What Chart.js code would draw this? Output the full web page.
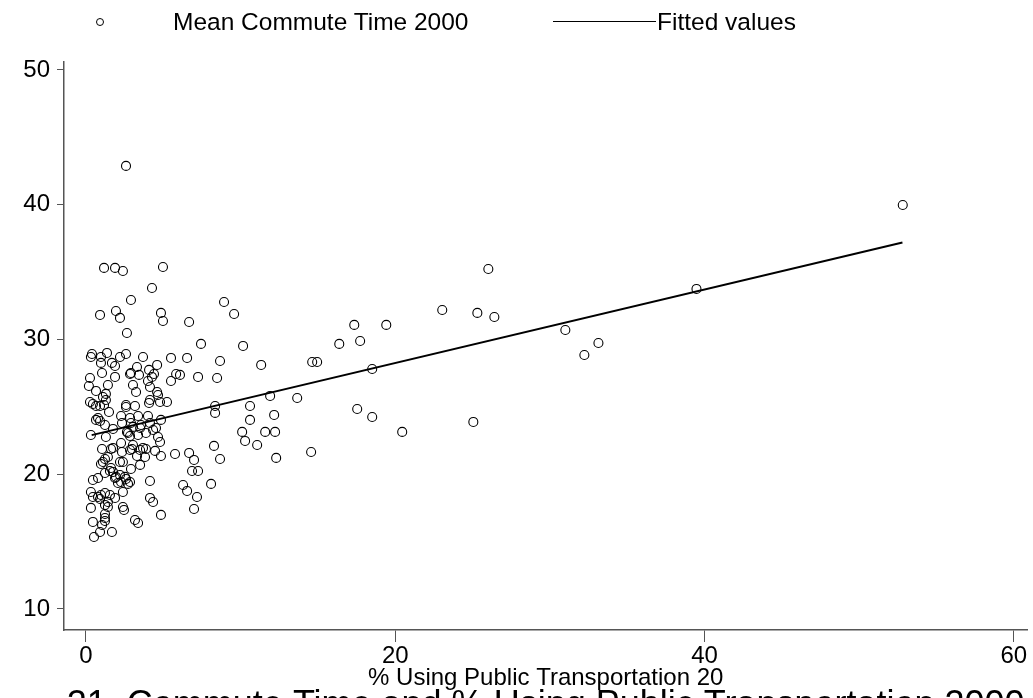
<!DOCTYPE html>
<html>
<head>
<meta charset="utf-8">
<script src="https://cdn.jsdelivr.net/npm/chart.js@4.4.1/dist/chart.umd.min.js"></script>
<style>
  html, body { margin: 0; padding: 0; background: #fff; overflow: hidden; }
  #wrap { position: relative; width: 1033px; height: 730px; }
  #legend { position: absolute; left: 0; top: 0; width: 1033px; height: 44px;
            font: 24.5px "Liberation Sans", Arial, sans-serif; color: #000; }
  #legend .dot { position: absolute; left: 96px; top: 18px; width: 6px; height: 6px;
                 border: 1px solid #000; border-radius: 50%; }
  #legend .line { position: absolute; left: 553px; top: 21px; width: 103px; height: 1px; background: #000; }
  #legend .txt { position: absolute; top: 9px; line-height: 26px; white-space: nowrap; }
</style>
</head>
<body>
<div id="wrap">
  <canvas id="commute-chart" width="1033" height="730"></canvas>
  <div id="legend">
    <span class="dot"></span><span class="txt" style="left:173px">Mean Commute Time 2000</span>
    <span class="line"></span><span class="txt" style="left:657px">Fitted values</span>
  </div>
</div>
<script>
// % using public transportation (x) and mean commute time in minutes (y)
const commuteX = [
  2.59, 52.82, 39.48, 31.00, 33.14, 32.23, 26.02, 23.04, 25.31, 26.41,
  25.05, 20.45, 19.42, 17.35, 17.73, 16.38, 18.51, 17.54, 18.51, 14.56,
  14.63, 14.95, 13.66, 11.91, 12.17, 10.61, 10.61, 12.23, 11.59, 10.10,
  10.29, 11.07, 12.30, 8.28, 8.67, 6.67, 6.99, 6.86, 7.25, 8.09,
  6.28, 6.54, 7.18, 6.99, 6.54, 8.67, 11.33, 7.25, 8.48, 8.35,
  8.35, 6.08, 5.50, 5.83, 5.50, 8.93, 9.58, 6.67, 7.44, 10.16,
  1.17, 1.88, 2.39, 4.98, 4.27, 2.91, 0.91, 1.94, 2.20, 4.85, 4.98, 2.65,
  0.39, 0.32, 0.97, 1.36, 0.97, 2.20, 2.59, 3.69, 1.68, 1.88,
  3.30, 4.60, 1.04, 1.88, 2.85, 2.91, 3.43, 4.08, 4.01, 4.40,
  4.27, 0.26, 0.19, 0.65, 1.42, 1.29, 1.10, 3.04, 3.24, 4.14,
  4.60, 4.66, 4.14, 4.08, 4.79, 5.24, 0.26, 0.45, 0.65, 0.91,
  1.17, 1.29, 2.59, 2.59, 3.17, 1.49, 2.27, 2.85, 3.37, 4.01,
  0.65, 0.78, 0.91, 1.23, 1.75, 2.33, 2.91, 3.04, 3.56, 3.50,
  4.14, 4.53, 4.85, 0.32, 1.29, 2.72, 2.85, 2.65, 3.37, 3.88,
  4.34, 4.66, 2.27, 3.04, 4.79,
  1.04, 1.75, 1.62, 2.33, 2.85, 2.98, 3.50, 3.69, 3.88, 4.47,
  4.85, 5.76, 3.30, 3.82, 1.42, 1.23, 1.10, 0.97, 2.20, 2.39,
  2.91, 3.50, 1.62, 1.55, 1.75, 1.23, 1.94, 2.20, 1.88, 2.52,
  2.59, 2.85, 2.72, 0.45, 0.78, 4.14, 2.07, 2.27, 2.39, 0.32,
  0.45, 0.78, 0.97, 1.23, 1.55, 0.91, 1.88, 1.42, 1.23, 4.14,
  4.34, 0.32, 1.42, 2.39, 2.46, 1.23, 1.23, 1.23, 4.85, 3.17,
  3.37, 0.45, 1.04, 0.91, 0.52, 1.68
];
const commuteY = [
  42.88, 39.98, 33.75, 30.70, 29.74, 28.85, 35.23, 32.19, 31.97, 31.67,
  23.88, 23.14, 31.08, 31.08, 29.89, 29.67, 27.81, 24.84, 24.25, 21.65,
  28.33, 28.33, 25.66, 25.81, 24.40, 25.06, 24.03, 23.14, 23.14, 23.14,
  22.47, 22.17, 21.21, 22.10, 21.13, 21.58, 21.06, 20.24, 20.24, 19.28,
  19.20, 18.76, 18.31, 17.42, 28.63, 28.40, 28.11, 27.22, 27.14, 25.06,
  24.55, 27.37, 28.63, 27.44, 26.92, 32.78, 31.89, 31.30, 29.67, 29.52,
  35.31, 35.31, 35.08, 35.38, 33.82, 32.93, 31.82, 32.11, 31.60, 31.97, 31.37, 30.48,
  28.92, 28.70, 28.70, 29.00, 28.26, 28.70, 28.92, 28.70, 28.26, 28.03,
  27.96, 28.11, 27.51, 27.22, 27.44, 27.51, 27.37, 27.74, 26.92, 27.44,
  27.22, 27.14, 26.55, 26.18, 26.62, 25.96, 25.73, 26.62, 26.10, 26.47,
  26.10, 25.88, 25.51, 25.29, 25.36, 25.36, 25.36, 25.21, 25.06, 25.06,
  25.14, 25.51, 25.14, 24.99, 25.06, 24.62, 24.32, 24.17, 24.32, 24.32,
  24.03, 24.17, 23.95, 23.65, 23.36, 23.80, 23.80, 23.51, 23.65, 23.43,
  23.80, 23.43, 24.03, 22.91, 22.76, 23.06, 22.84, 23.14, 22.91, 23.06,
  23.28, 22.76, 22.32, 22.17, 22.39,
  21.87, 21.95, 21.87, 21.65, 21.80, 21.87, 21.80, 21.95, 21.87, 21.73,
  21.35, 21.50, 21.35, 21.28, 21.28, 21.13, 20.91, 20.76, 20.91, 20.91,
  20.39, 20.69, 20.46, 20.24, 20.17, 20.09, 19.80, 19.94, 19.72, 19.80,
  19.65, 19.42, 19.28, 19.57, 19.72, 19.50, 19.35, 19.42, 18.68, 18.68,
  18.31, 18.31, 18.46, 18.61, 18.46, 18.16, 18.24, 17.94, 17.72, 18.24,
  17.94, 17.50, 17.57, 17.57, 17.35, 17.05, 16.75, 16.53, 16.98, 16.60,
  16.38, 16.46, 16.23, 15.71, 15.34, 15.71
];
// fitted regression line, ends
const fitX = [0.37, 52.8];
const fitY = [22.9, 37.2];

const xTicks = [0, 20, 40, 60];
const yTicks = [10, 20, 30, 40, 50];

const font = (size, weight = 'normal') => ({ family: '"Liberation Sans", Arial, sans-serif', size, weight });
const axisGrey = '#555';

new Chart(document.getElementById('commute-chart'), {
  type: 'scatter',
  data: {
    datasets: [
      {
        label: 'Mean Commute Time 2000',
        data: commuteX.map((x, i) => ({ x, y: commuteY[i] })),
        pointStyle: 'circle', pointRadius: 4.5, pointBorderWidth: 1.1,
        borderColor: '#000', backgroundColor: 'rgba(0,0,0,0)'
      },
      {
        type: 'line',
        label: 'Fitted values',
        data: fitX.map((x, i) => ({ x, y: fitY[i] })),
        borderColor: '#000', borderWidth: 2, pointRadius: 0, fill: false
      }
    ]
  },
  options: {
    responsive: false,
    animation: false,
    events: [],
    layout: { padding: { top: 62, left: 0, right: 0, bottom: 2.5 } },
    plugins: {
      legend: { display: false },
      tooltip: { enabled: false },
      title: {
        display: true, position: 'bottom', fullSize: false, color: '#000',
        text: '21. Commute Time and % Using Public Transportation 2000',
        font: font(36), padding: { top: -8.7, bottom: 0 }
      }
    },
    scales: {
      x: {
        type: 'linear', min: -1.42, max: 60.88,
        afterBuildTicks: s => { s.ticks = xTicks.map(value => ({ value })); },
        afterFit: s => { s.height = 63; s.paddingLeft = 0; s.paddingRight = 0; },
        grid: { display: true, drawOnChartArea: false, drawTicks: true, tickLength: 12, color: axisGrey },
        border: { display: true, color: axisGrey, width: 1.5 },
        ticks: { color: '#000', font: font(24), padding: 0, maxRotation: 0 },
        title: { display: true, text: '% Using Public Transportation 20', color: '#000', font: font(24), padding: 0 }
      },
      y: {
        type: 'linear', min: 8.44, max: 50.59,
        afterBuildTicks: s => { s.ticks = yTicks.map(value => ({ value })); },
        afterFit: s => { s.width = 64; s.paddingTop = 0; s.paddingBottom = 0; },
        grid: { display: true, drawOnChartArea: false, drawTicks: true, tickLength: 7, color: axisGrey },
        border: { display: true, color: axisGrey, width: 1.5 },
        ticks: { color: '#000', font: font(24), padding: 7 }
      }
    }
  }
});
</script>
</body>
</html>
